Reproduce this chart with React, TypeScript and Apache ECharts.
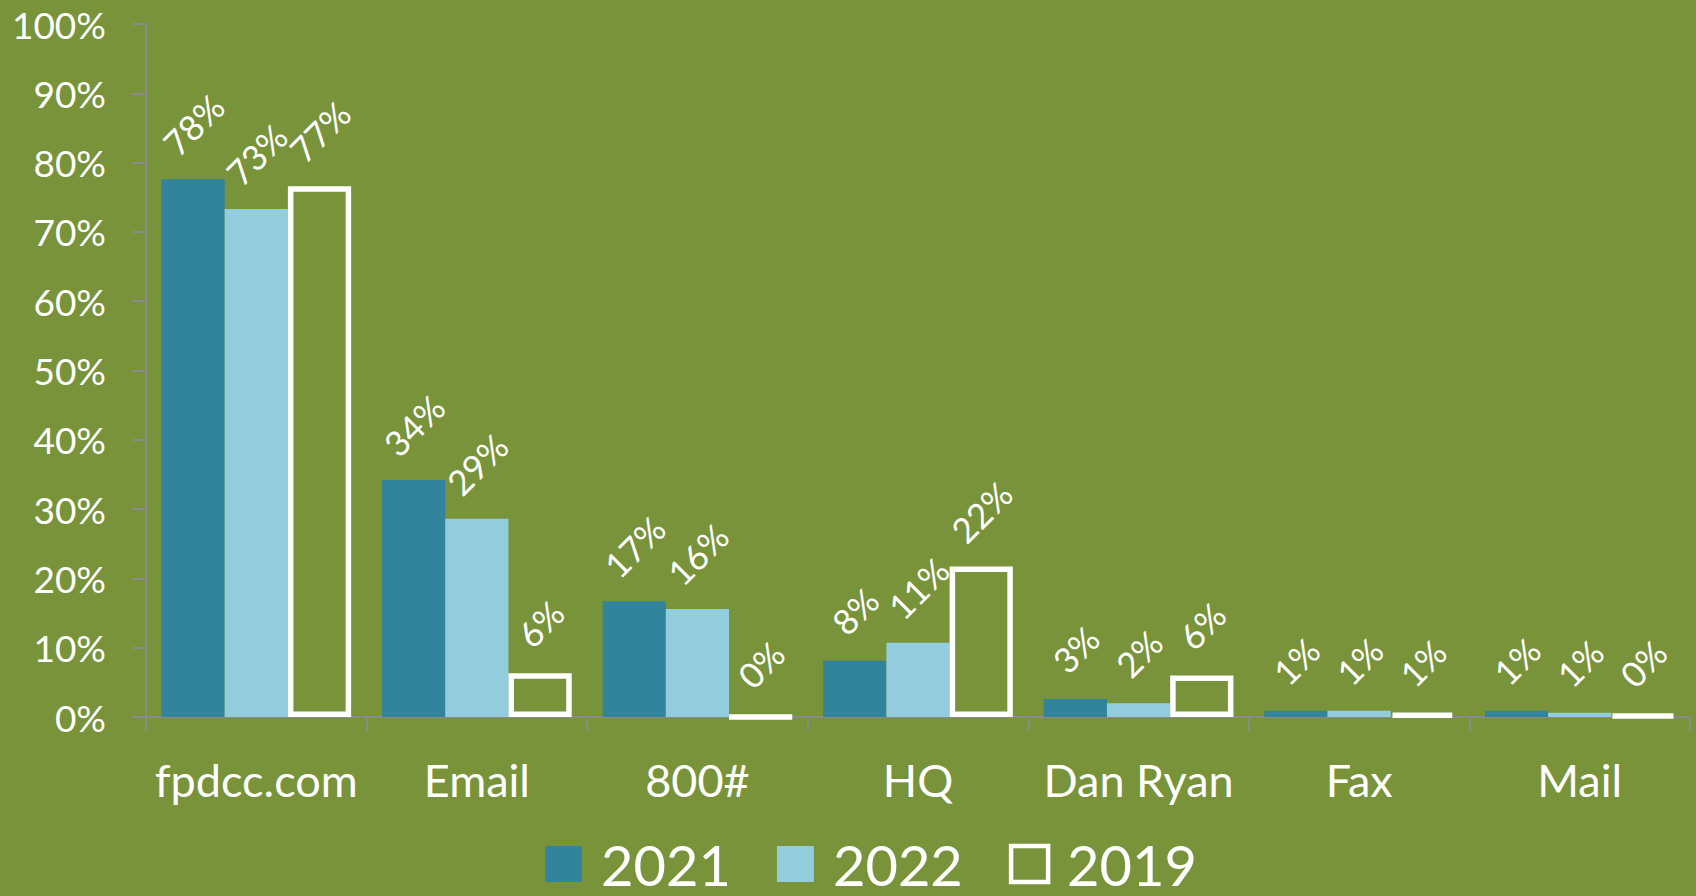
import React, { useEffect, useRef } from "react";
import * as echarts from "echarts";

const categories = ["fpdcc.com", "Email", "800#", "HQ", "Dan Ryan", "Fax", "Mail"];
const seriesNames = ["2021", "2022", "2019"];
const values2021 = [77.6, 34.2, 16.7, 8.1, 2.6, 0.9, 0.9];
const values2022 = [73.3, 28.6, 15.6, 10.7, 2.0, 0.9, 0.6];
const values2019 = [76.6, 6.3, 0, 21.7, 6.0, 0.5, 0.3];

const BG = "#789339";
const C2021 = "#31849B";
const C2022 = "#93CDDD";
const AXIS = "#8a8a8a";
const FONT = "Lato";

function labelled(values: number[]) {
  return values.map((v) => {
    const txt = Math.round(v) + "%";
    return { value: v, label: { distance: 40 + 5 * txt.length } };
  });
}

export default function App() {
  const ref = useRef<HTMLDivElement>(null);
  useEffect(() => {
    document.body.style.margin = "0";
    const chart = echarts.init(ref.current!, undefined, { renderer: "svg" });
    const label = {
      show: true,
      position: "top",
      rotate: 45,
      align: "center",
      verticalAlign: "middle",
      color: "#fff",
      fontFamily: FONT,
      fontSize: 35,
      formatter: (p: any) => Math.round(p.value) + "%",
    };
    chart.setOption({
      animation: false,
      backgroundColor: BG,
      textStyle: { fontFamily: FONT },
      grid: { left: 146, right: 6, top: 24, bottom: 179, containLabel: false },
      legend: {
        top: 836,
        left: 545,
        itemWidth: 37,
        itemHeight: 36,
        itemGap: 46,
        padding: 0,
        textStyle: {
          color: "#fff",
          fontSize: 56,
          lineHeight: 40,
          fontFamily: FONT,
          padding: [0, 0, 0, 14],
        },
        data: [
          { name: seriesNames[0], icon: "rect", itemStyle: { color: C2021, borderWidth: 0 } },
          { name: seriesNames[1], icon: "rect", itemStyle: { color: C2022, borderWidth: 0 } },
          {
            name: seriesNames[2],
            icon: "rect",
            itemStyle: { color: "transparent", borderColor: "#fff", borderWidth: 4.5 },
          },
        ],
      },
      xAxis: {
        type: "category",
        data: categories,
        axisLine: { lineStyle: { color: AXIS, width: 2 } },
        axisTick: { show: true, length: 14, lineStyle: { color: AXIS, width: 2 } },
        axisLabel: { color: "#fff", fontSize: 45, fontFamily: FONT, margin: 40, interval: 0 },
      },
      yAxis: {
        type: "value",
        min: 0,
        max: 100,
        interval: 10,
        splitLine: { show: false },
        axisLine: { show: true, lineStyle: { color: AXIS, width: 2 } },
        axisTick: { show: true, length: 14, lineStyle: { color: AXIS, width: 2 } },
        axisLabel: {
          color: "#fff",
          fontSize: 37,
          fontFamily: FONT,
          margin: 40,
          formatter: "{value}%",
        },
      },
      series: [
        {
          name: seriesNames[0],
          type: "bar",
          data: labelled(values2021),
          barGap: "0%",
          barCategoryGap: "14%",
          itemStyle: { color: C2021 },
          label,
        },
        {
          name: seriesNames[1],
          type: "bar",
          data: labelled(values2022),
          barGap: "0%",
          barCategoryGap: "14%",
          itemStyle: { color: C2022 },
          label,
        },
        {
          name: seriesNames[2],
          type: "bar",
          data: labelled(values2019),
          barGap: "0%",
          barCategoryGap: "14%",
          itemStyle: { color: "rgba(0,0,0,0)", borderColor: "#fff", borderWidth: 5.5 },
          label,
        },
      ],
    });
    return () => chart.dispose();
  }, []);
  return (
    <div
      ref={ref}
      style={{ position: "absolute", left: 0, top: 0, width: 1696, height: 896 }}
    />
  );
}
